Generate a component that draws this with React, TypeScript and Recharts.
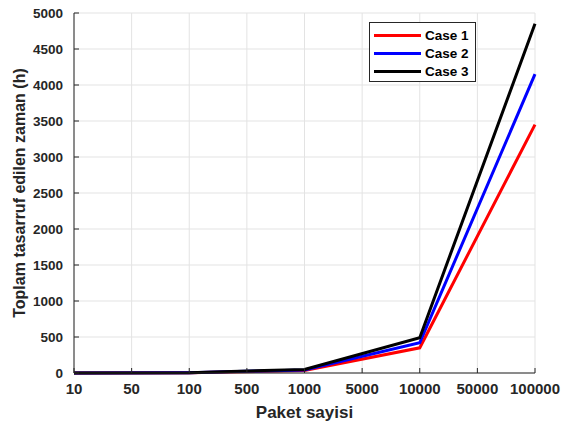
import React from 'react';
import { CartesianGrid, Line, LineChart, XAxis, YAxis } from 'recharts';

const TICK_LABELS = ['10', '50', '100', '500', '1000', '5000', '10000', '50000', '100000'];
const POINT_INDEX = [0, 2, 4, 6, 8];
const CASE_1 = [0.35, 3.5, 35, 350, 3450];
const CASE_2 = [0.42, 4.2, 42, 420, 4150];
const CASE_3 = [0.49, 4.9, 49, 490, 4850];
const Y_TICKS = [0, 500, 1000, 1500, 2000, 2500, 3000, 3500, 4000, 4500, 5000];

const SERIES = [
    { key: 'case1', name: 'Case 1', color: '#ff0000' },
    { key: 'case2', name: 'Case 2', color: '#0000ff' },
    { key: 'case3', name: 'Case 3', color: '#000000' },
];

const data = POINT_INDEX.map((x, i) => ({ x, case1: CASE_1[i], case2: CASE_2[i], case3: CASE_3[i] }));
const X_TICKS = TICK_LABELS.map((_, i) => i);

const FONT = '"Liberation Sans", Arial, sans-serif';
const Y_TICK_STYLE = { fill: '#262626', fontSize: 13.5, fontWeight: 700, fontFamily: FONT };
const X_TICK_STYLE = { fill: '#262626', fontSize: 15, fontWeight: 700, fontFamily: FONT };
const AXIS_STROKE = '#262626';

const LegendBox = () => (
    <div style={{
        position: 'absolute', left: 369, top: 22,
        border: '1px solid #262626', background: '#fff', width: 107, height: 60,
        boxSizing: 'border-box', padding: '3px 0 0 4px', fontFamily: FONT,
    }}>
        {SERIES.map(s => (
            <div key={s.key} style={{ display: 'flex', alignItems: 'center', height: 18 }}>
                <div style={{ width: 47, height: 3, background: s.color }} />
                <span style={{ marginLeft: 4, fontSize: 13.5, fontWeight: 700, color: '#000' }}>{s.name}</span>
            </div>
        ))}
    </div>
);

// eslint-disable-next-line @typescript-eslint/no-explicit-any
const YLabel = (props: any) => {
    const vb = props.viewBox;
    const cx = 19;
    const cy = vb.y + vb.height / 2;
    return (
        <text x={cx} y={cy} transform={`rotate(-90 ${cx} ${cy})`} textAnchor="middle" dominantBaseline="central"
            fill="#262626" fontSize={16} fontWeight={700} fontFamily={FONT}>
            Toplam tasarruf edilen zaman (h)
        </text>
    );
};

export default function App() {
    return (
        <div style={{ position: 'absolute', left: 0, top: 0, width: 562, height: 421, background: '#fff' }}>
            <LineChart width={562} height={421} data={data} margin={{ top: 13, right: 27, left: 0, bottom: 0 }}>
                <CartesianGrid stroke="#e3e3e3" strokeWidth={1} />
                <XAxis
                    dataKey="x"
                    type="number"
                    domain={[0, 8]}
                    ticks={X_TICKS}
                    tickFormatter={(v: number) => TICK_LABELS[v]}
                    interval={0}
                    height={48}
                    stroke={AXIS_STROKE}
                    tick={X_TICK_STYLE}
                    tickSize={-5}
                    tickMargin={15}
                    label={{ value: 'Paket sayisi', position: 'insideBottom', offset: 3, fill: '#262626', fontSize: 17, fontWeight: 700, fontFamily: FONT }}
                />
                <XAxis
                    xAxisId="top"
                    orientation="top"
                    type="number"
                    domain={[0, 8]}
                    ticks={X_TICKS}
                    height={0}
                    stroke={AXIS_STROKE}
                    tick={{ fill: 'transparent' }}
                    tickSize={-5}
                    tickMargin={0}
                />
                <YAxis
                    domain={[0, 5000]}
                    ticks={Y_TICKS}
                    interval={0}
                    width={74}
                    stroke={AXIS_STROKE}
                    tick={Y_TICK_STYLE}
                    tickSize={-5}
                    tickMargin={16}
                    label={{ content: YLabel }}
                />
                <YAxis
                    yAxisId="right"
                    orientation="right"
                    domain={[0, 5000]}
                    ticks={Y_TICKS}
                    width={0}
                    stroke={AXIS_STROKE}
                    tick={{ fill: 'transparent' }}
                    tickSize={-5}
                    tickMargin={0}
                />
                {SERIES.map(s => (
                    <Line
                        key={s.key}
                        dataKey={s.key}
                        name={s.name}
                        stroke={s.color}
                        strokeWidth={3}
                        dot={false}
                        type="linear"
                        isAnimationActive={false}
                    />
                ))}
            </LineChart>
            <LegendBox />
        </div>
    );
}
